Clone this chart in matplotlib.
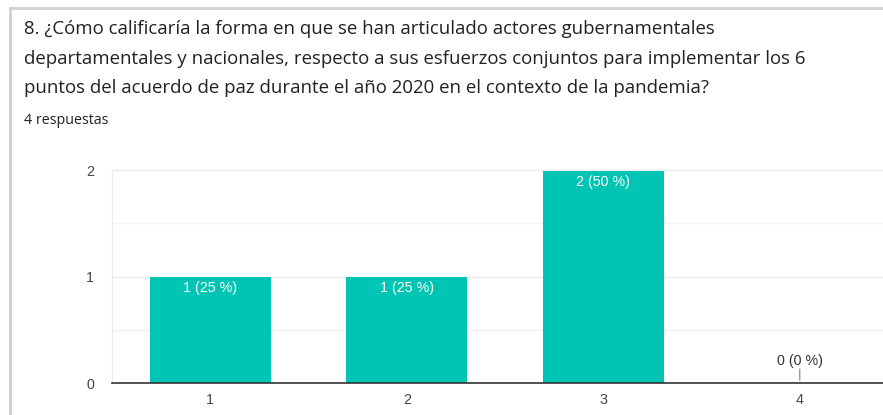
import matplotlib.pyplot as plt
import numpy as np

# Datos del gráfico
categorias = ['1', '2', '3', '4']
respuestas = [1, 1, 2, 0]
total = 4
lineas_titulo = [
    '8. ¿Cómo calificaría la forma en que se han articulado actores gubernamentales',
    'departamentales y nacionales, respecto a sus esfuerzos conjuntos para implementar los 6',
    'puntos del acuerdo de paz durante el año 2020 en el contexto de la pandemia?',
]
subtitulo = '4 respuestas'

plt.rcParams['font.family'] = ['Open Sans', 'DejaVu Sans']

W, H = 883, 415
fig = plt.figure(figsize=(W / 100, H / 100), dpi=100)

# borde de la tarjeta
fig.add_artist(plt.Line2D([10 / W, 10 / W], [0, 1 - 8 / H], color='#cfcfcf', lw=2))
fig.add_artist(plt.Line2D([10 / W, 1], [1 - 8 / H, 1 - 8 / H], color='#cfcfcf', lw=2))

# título, una línea cada vez (líneas base en px)
for linea, yb in zip(lineas_titulo, [34, 63.5, 93]):
    fig.text(24 / W, 1 - yb / H, linea, ha='left', va='baseline', fontsize=13.4,
             color='#202124')
fig.text(24 / W, 1 - 124 / H, subtitulo, ha='left', va='baseline', fontsize=10.3,
         color='#202124')

fuente_ejes = ['Liberation Sans', 'DejaVu Sans']

# ejes: de x=112 a x=898 px, y=383 a y=170 px
ax = fig.add_axes([112 / W, 1 - 383 / H, (898 - 112) / W, (383 - 170) / H])
x = np.arange(1, len(categorias) + 1)
bars = ax.bar(x, respuestas, width=0.615, color='#00c4b4', zorder=2)

ax.set_xlim(0.5, 4.5)
ax.set_ylim(0, 2)
ax.set_yticks([0, 1, 2])
ax.set_yticks([0.5, 1.5], minor=True)
ax.set_xticks(x)
ax.set_xticklabels(categorias)
for t in ax.get_xticklabels() + ax.get_yticklabels():
    t.set_fontfamily(fuente_ejes)
ax.tick_params(axis='both', length=0, labelsize=10.3, colors='#444444')
ax.tick_params(axis='y', pad=13)
ax.tick_params(axis='x', pad=7)
ax.tick_params(axis='y', which='minor', length=0)
ax.grid(axis='y', which='major', color='#ebebeb', lw=1, zorder=0)
ax.grid(axis='y', which='minor', color='#f3f3f3', lw=1, zorder=0)

for s in ['top', 'left', 'right']:
    ax.spines[s].set_color('#ebebeb')
ax.spines['bottom'].set_color('#333333')
ax.spines['bottom'].set_linewidth(1.2)
ax.spines['bottom'].set_zorder(3)

for xi, v in zip(x, respuestas):
    etiqueta = f'{v} ({round(100 * v / total)} %)'
    if v > 0:
        ax.annotate(etiqueta, (xi, v), xytext=(0, -3.5), textcoords='offset points',
                    ha='center', va='top', color='white', fontsize=10.3,
                    family=fuente_ejes, zorder=4)
    else:
        ax.bar(xi, 0.012, width=0.615, color='#d6f2ef', zorder=2)
        ax.annotate('', (xi, 0), xytext=(0, 12), textcoords='offset points',
                    arrowprops=dict(arrowstyle='-', color='#999999', lw=1))
        ax.annotate(etiqueta, (xi, 0), xytext=(0, 13), textcoords='offset points',
                    ha='center', va='baseline', color='#333333', fontsize=10.3,
                    family=fuente_ejes, zorder=4)

fig.savefig('out.png', dpi=100)
